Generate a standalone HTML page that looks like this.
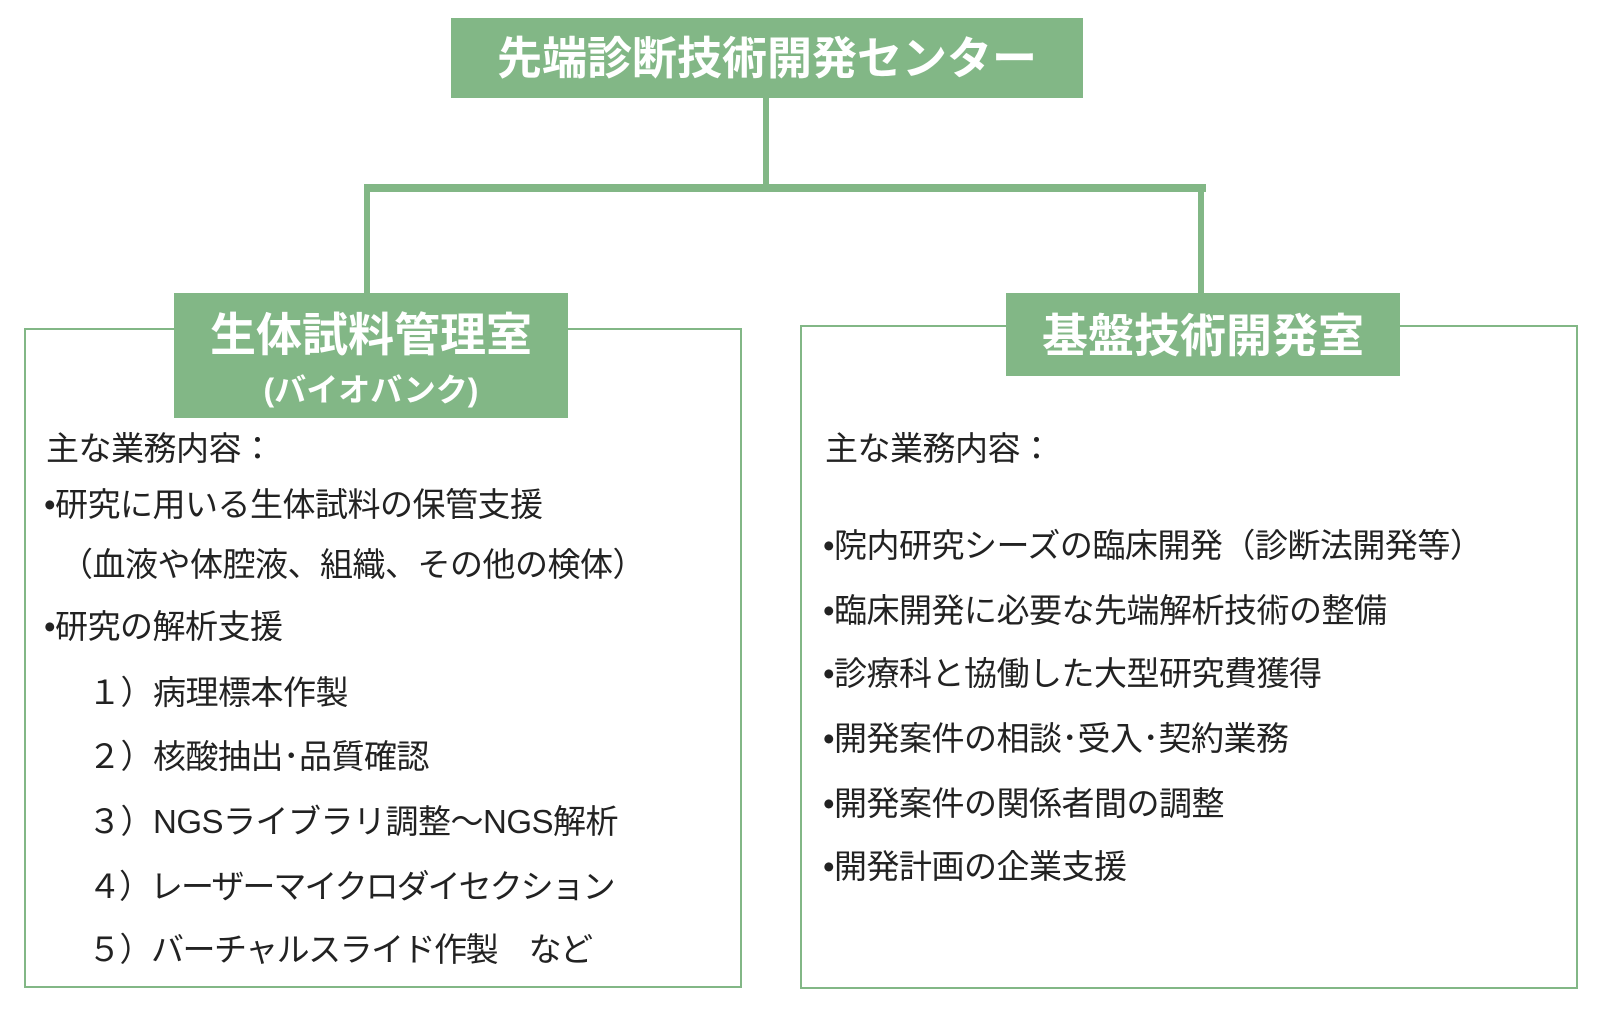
<!DOCTYPE html>
<html><head><meta charset="utf-8"><style>
body{margin:0;width:1600px;height:1009px;background:#fff;position:relative;overflow:hidden;font-family:"Liberation Sans","Noto Sans CJK JP",sans-serif}
div{position:absolute;box-sizing:border-box}
.g{background:#82b786}
.b{border:2px solid #82b786;background:transparent}
.t{color:#222;font-size:33px;line-height:40px;white-space:nowrap;letter-spacing:-0.5px}
.h{color:#fff;font-weight:bold;text-align:center;white-space:nowrap}
</style></head><body>
<div class="g" style="left:763px;top:98px;width:6px;height:90px"></div>
<div class="g" style="left:364px;top:184px;width:842px;height:8px"></div>
<div class="g" style="left:364px;top:188px;width:6px;height:108px"></div>
<div class="g" style="left:1198px;top:188px;width:6px;height:108px"></div>
<div class="b" style="left:24px;top:328px;width:718px;height:660px"></div>
<div class="b" style="left:800px;top:325px;width:778px;height:664px"></div>
<div class="g h" style="left:451px;top:18px;width:632px;height:80px;font-size:45px;line-height:82px">先端診断技術開発センター</div>
<div class="g h" style="left:174px;top:293px;width:394px;height:125px;font-size:46px;line-height:50px;padding-top:17px">生体試料管理室<br><span style="font-size:32px;line-height:54px">(バイオバンク)</span></div>
<div class="g h" style="left:1006px;top:293px;width:394px;height:83px;font-size:46px;line-height:86px">基盤技術開発室</div>
<div class="t" style="left:46px;top:429px">主な業務内容：</div>
<div class="t" style="left:44px;top:485px">•研究に用いる生体試料の保管支援</div>
<div class="t" style="left:60px;top:545px">（血液や体腔液、組織、その他の検体）</div>
<div class="t" style="left:44px;top:607px">•研究の解析支援</div>
<div class="t" style="left:88px;top:673px">１）病理標本作製</div>
<div class="t" style="left:88px;top:737px">２）核酸抽出･品質確認</div>
<div class="t" style="left:88px;top:802px">３）NGSライブラリ調整～NGS解析</div>
<div class="t" style="left:88px;top:867px;letter-spacing:-2px">４）レーザーマイクロダイセクション</div>
<div class="t" style="left:88px;top:930px;letter-spacing:-1.5px">５）バーチャルスライド作製　など</div>
<div class="t" style="left:825px;top:429px">主な業務内容：</div>
<div class="t" style="left:823px;top:526px">•院内研究シーズの臨床開発（診断法開発等）</div>
<div class="t" style="left:823px;top:591px">•臨床開発に必要な先端解析技術の整備</div>
<div class="t" style="left:823px;top:654px">•診療科と協働した大型研究費獲得</div>
<div class="t" style="left:823px;top:719px">•開発案件の相談･受入･契約業務</div>
<div class="t" style="left:823px;top:784px">•開発案件の関係者間の調整</div>
<div class="t" style="left:823px;top:847px">•開発計画の企業支援</div>
</body></html>
